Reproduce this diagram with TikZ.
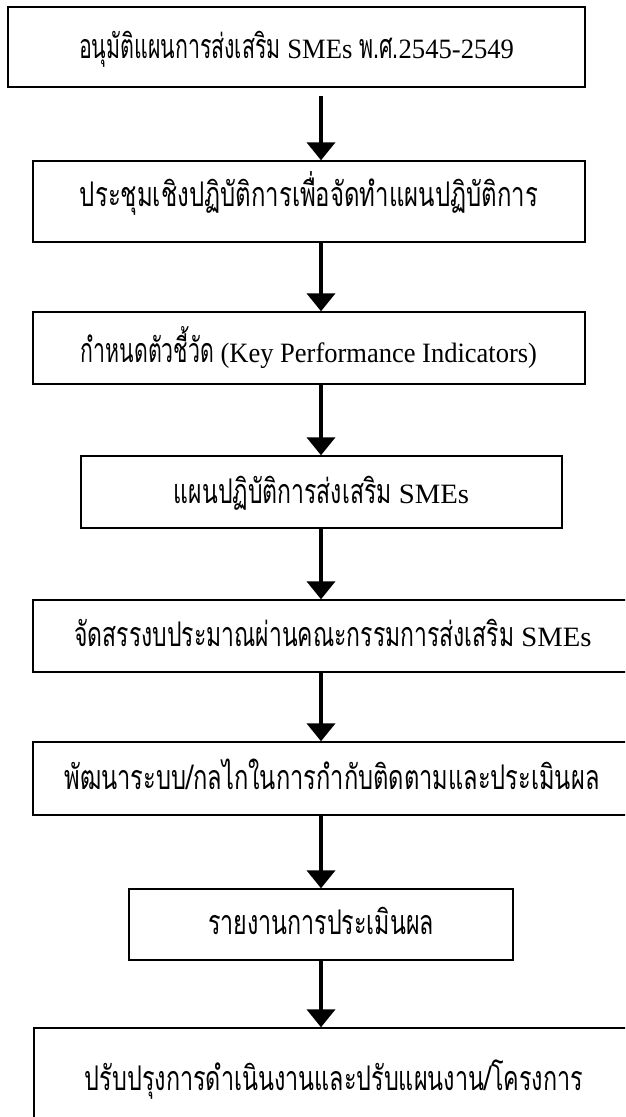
\documentclass[tikz,border=0pt]{standalone}
\usepackage{fontspec}
\usepackage{graphicx}
\usetikzlibrary{arrows.meta}
\setmainfont{Liberation Serif}
\newfontfamily\thai[Script=Thai,FakeStretch=0.66]{Loma}
\tikzset{
  box/.style={draw=black, line width=1.4pt, fill=white, inner sep=0pt,
    align=center, text height=23pt, text depth=7pt,
    font=\fontsize{28pt}{31pt}\selectfont},
  flow/.style={line width=4pt, -{Triangle[width=28pt,length=18pt]}}
}
\newcommand\thtxt[1]{{\thai\fontsize{34pt}{37pt}\selectfont #1}}
% width, downward shift, content
\newcommand\lbl[3]{\raisebox{-#2pt}{\resizebox{#1pt}{\height}{#3}}}
\begin{document}
\begin{tikzpicture}[x=1pt,y=-1pt]
\useasboundingbox (0,0) rectangle (625,1117);
\clip (0,0) rectangle (625,1117);
\coordinate (ax) at (321,0);
\node[box, minimum width=577pt, minimum height=80pt] (b1) at (296.5,47)
  {\lbl{435}{3}{\thtxt{อนุมัติแผนการส่งเสริม} SMEs \thtxt{พ.ศ.}2545-2549}};
\node[box, minimum width=552pt, minimum height=81pt] (b2) at (309,201.5)
  {\lbl{458}{-3}{\thtxt{ประชุมเชิงปฏิบัติการเพื่อจัดทำแผนปฏิบัติการ}}};
\node[box, minimum width=552pt, minimum height=72pt] (b3) at (309,348)
  {\lbl{456}{6}{\thtxt{กำหนดตัวชี้วัด} (Key Performance Indicators)}};
\node[box, minimum width=481pt, minimum height=72pt] (b4) at (321.5,492)
  {\lbl{295}{3}{\thtxt{แผนปฏิบัติการส่งเสริม} SMEs}};
\node[box, minimum width=600pt, minimum height=72pt] (b5) at (333,636)
  {\lbl{517}{2}{\thtxt{จัดสรรงบประมาณผ่านคณะกรรมการส่งเสริม} SMEs}};
\node[box, minimum width=598pt, minimum height=73pt] (b6) at (332,778.5)
  {\lbl{535}{2.5}{\thtxt{พัฒนาระบบ/กลไกในการกำกับติดตามและประเมินผล}}};
\node[box, minimum width=384pt, minimum height=71pt] (b7) at (321,924.5)
  {\lbl{226}{1.5}{\thtxt{รายงานการประเมินผล}}};
\node[box, minimum width=600pt, minimum height=114pt] (b8) at (334,1085)
  {\lbl{498}{-3}{\thtxt{ปรับปรุงการดำเนินงานและปรับแผนงาน/โครงการ}}};
\draw[flow] ([yshift=-8pt]b1.south -| ax) -- (b2.north -| ax);
\draw[flow] (b2.south -| ax) -- (b3.north -| ax);
\draw[flow] (b3.south -| ax) -- (b4.north -| ax);
\draw[flow] (b4.south -| ax) -- (b5.north -| ax);
\draw[flow] (b5.south -| ax) -- (b6.north -| ax);
\draw[flow] (b6.south -| ax) -- (b7.north -| ax);
\draw[flow] (b7.south -| ax) -- (b8.north -| ax);
\end{tikzpicture}
\end{document}
